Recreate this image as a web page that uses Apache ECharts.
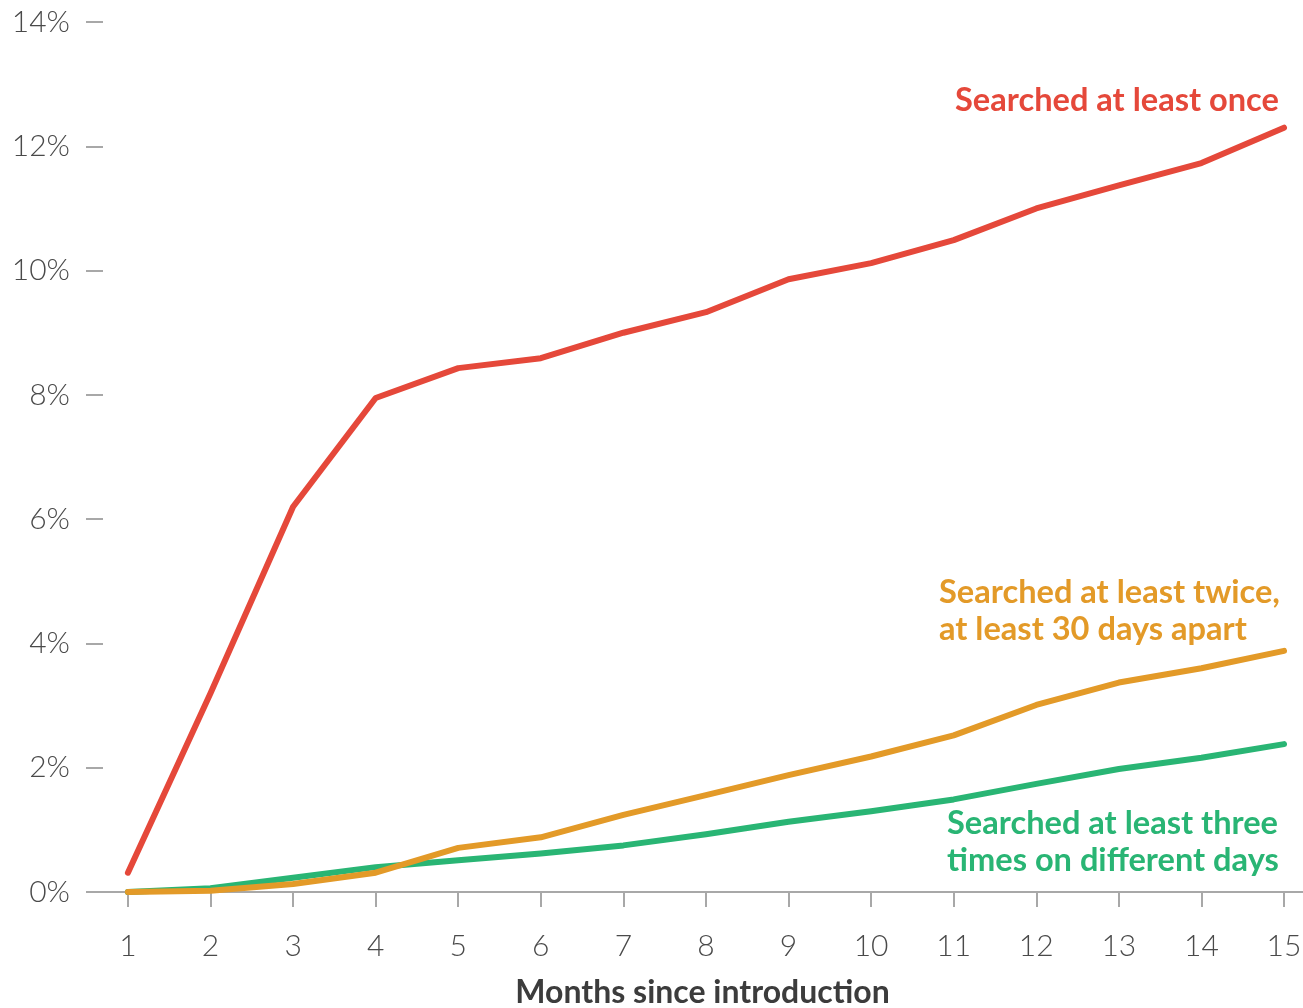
<!DOCTYPE html>
<html>
<head>
<meta charset="utf-8">
<script src="https://cdn.jsdelivr.net/npm/echarts@6/dist/echarts.min.js"></script>
<style>
  html, body { margin: 0; padding: 0; background: #fff; }
  #chart { width: 1303px; height: 1008px; }
</style>
</head>
<body>
<div id="chart"></div>
<script>
// Months since the feature was introduced
const months = [1, 2, 3, 4, 5, 6, 7, 8, 9, 10, 11, 12, 13, 14, 15];

// Share of users (%) by search behaviour
const searchedOnce = [0.31, 3.2, 6.2, 7.95, 8.43, 8.59, 9.0, 9.33, 9.86, 10.12, 10.49, 11.0, 11.37, 11.73, 12.3];
const searchedTwice = [0.0, 0.02, 0.13, 0.31, 0.71, 0.88, 1.24, 1.56, 1.88, 2.18, 2.52, 3.01, 3.37, 3.6, 3.88];
const searchedThrice = [0.0, 0.06, 0.23, 0.4, 0.51, 0.62, 0.75, 0.93, 1.13, 1.3, 1.49, 1.74, 1.98, 2.16, 2.38];

const yTicks = [0, 2, 4, 6, 8, 10, 12, 14];

const seriesLabels = {
  once: ['Searched at least once'],
  twice: ['Searched at least twice,', 'at least 30 days apart'],
  thrice: ['Searched at least three', 'times on different days']
};

const RED = '#e5483a';
const ORANGE = '#e39a28';
const GREEN = '#29b574';
const FONT = 'Lato, "Open Sans", sans-serif';

const pairs = vals => months.map((m, i) => [m, vals[i]]);

const chart = echarts.init(document.getElementById('chart'), null, { renderer: 'canvas' });

const lineSeries = (name, vals, color) => ({
  name,
  type: 'line',
  data: pairs(vals),
  showSymbol: false,
  symbol: 'none',
  lineStyle: { color, width: 6, cap: 'round', join: 'round' },
  emphasis: { disabled: true },
  silent: true
});

const labelText = (lines, left, top, color) => ({
  type: 'text',
  left,
  top,
  style: {
    text: lines.join('\n'),
    fill: color,
    font: 'bold 32.6px ' + FONT,
    lineHeight: 37
  }
});

chart.setOption({
  animation: false,
  backgroundColor: '#ffffff',
  grid: { left: 92, right: 0, top: 22, bottom: 116, containLabel: false, outerBoundsMode: 'none' },
  xAxis: {
    type: 'value',
    min: 0.565,
    max: 15.23,
    name: 'Months since introduction',
    nameLocation: 'middle',
    nameGap: 85,
    nameTextStyle: { fontFamily: FONT, fontSize: 32, fontWeight: 'bold', color: '#3c3c3c', padding: [0, 0, 0, 10] },
    axisLine: { show: true, lineStyle: { color: '#a8a8a8', width: 2 } },
    axisTick: { show: true, length: 15, lineStyle: { color: '#a8a8a8', width: 2 }, customValues: months },
    axisLabel: { fontFamily: FONT, fontSize: 30, fontWeight: 300, color: '#4a4a4a', margin: 39, customValues: months },
    splitLine: { show: false }
  },
  yAxis: {
    type: 'value',
    min: 0,
    max: 14,
    interval: 2,
    offset: -11,
    axisLine: { show: false },
    axisTick: { show: true, length: 17, lineStyle: { color: '#a8a8a8', width: 2 }, customValues: yTicks },
    axisLabel: {
      fontFamily: FONT, fontSize: 30, fontWeight: 300, color: '#4a4a4a', margin: 33,
      customValues: yTicks,
      formatter: v => v + '%'
    },
    splitLine: { show: false }
  },
  series: [
    lineSeries('Searched at least three times on different days', searchedThrice, GREEN),
    lineSeries('Searched at least twice, at least 30 days apart', searchedTwice, ORANGE),
    lineSeries('Searched at least once', searchedOnce, RED)
  ],
  graphic: [
    labelText(seriesLabels.once, 955, 82, RED),
    labelText(seriesLabels.twice, 939, 574, ORANGE),
    labelText(seriesLabels.thrice, 947, 805, GREEN)
  ]
});
</script>
</body>
</html>
